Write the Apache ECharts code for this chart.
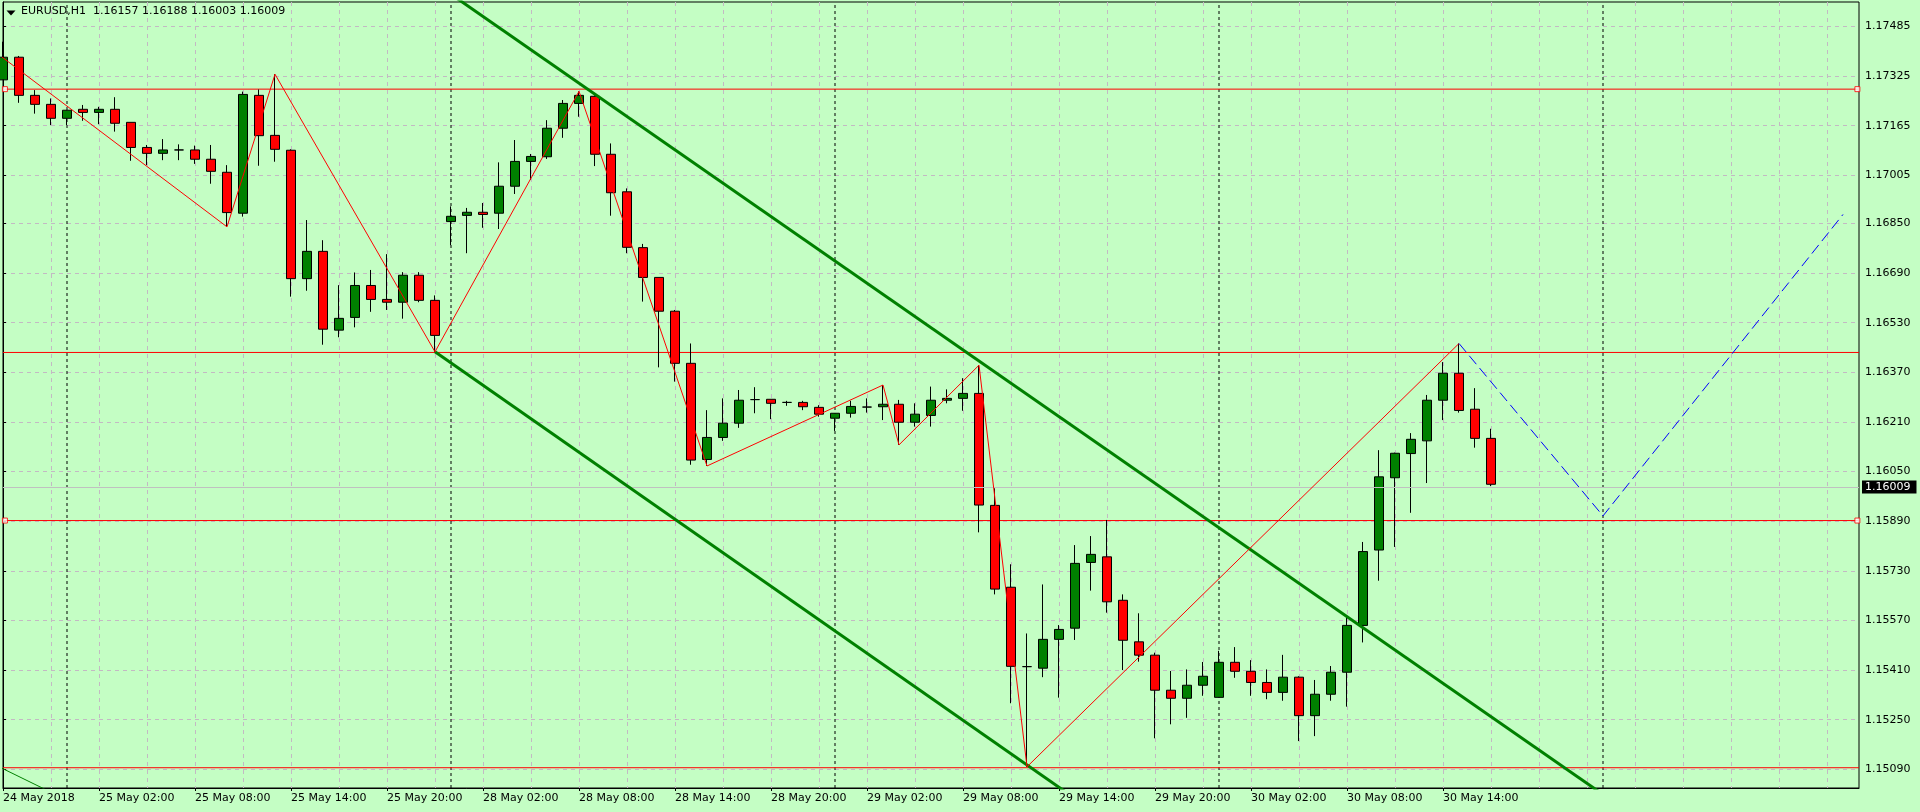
<!DOCTYPE html>
<html>
<head>
<meta charset="utf-8">
<script src="https://cdn.jsdelivr.net/npm/echarts@6/dist/echarts.min.js"></script>
<style>
html,body{margin:0;padding:0;background:#c4fec4;}
#chart{width:1920px;height:812px;}
</style>
</head>
<body>
<div id="chart"></div>
<script>
// ---------------- DATA ----------------
const symbolName = 'EURUSD,H1';
// trading days shown (weekend skipped), first bar = 24 May 20:00, H1 bars
const tradingDays = ['24 May', '25 May', '28 May', '29 May', '30 May', '31 May'];
const firstHour = 20;
const totalSlots = 117; // 94 real bars + future space

const openP = [
1.17313,1.17386,1.17263,1.17234,1.17189,1.17218,1.17208,1.17218,1.17176,1.17095,
1.17076,1.17087,1.17087,1.17057,1.17015,1.16883,1.17263,1.17134,1.17086,1.16672,
1.16760,1.16506,1.16547,1.16650,1.16605,1.16596,1.16683,1.16602,1.16856,1.16876,
1.16886,1.16883,1.16970,1.17050,1.17065,1.17157,1.17237,1.17260,1.17073,1.16952,
1.16772,1.16676,1.16567,1.16399,1.16089,1.16160,1.16206,1.16282,1.16283,1.16273,
1.16273,1.16257,1.16222,1.16238,1.16258,1.16259,1.16267,1.16209,1.16231,1.16280,
1.16286,1.16302,1.15941,1.15677,1.15421,1.15416,1.15509,1.15545,1.15757,1.15775,
1.15635,1.15501,1.15458,1.15345,1.15319,1.15361,1.15322,1.15435,1.15406,1.15370,
1.15338,1.15387,1.15263,1.15332,1.15403,1.15554,1.15797,1.16030,1.16108,1.16149,
1.16280,1.16367,1.16251,1.16157];
const highP = [
1.17436,1.17390,1.17280,1.17253,1.17216,1.17232,1.17226,1.17257,1.17176,1.17103,
1.17122,1.17105,1.17101,1.17103,1.17038,1.17275,1.17282,1.17331,1.17089,1.16861,
1.16796,1.16651,1.16692,1.16700,1.16751,1.16693,1.16693,1.16618,1.16905,1.16900,
1.16916,1.17047,1.17119,1.17074,1.17183,1.17248,1.17276,1.17263,1.17108,1.16963,
1.16784,1.16676,1.16571,1.16463,1.16248,1.16286,1.16313,1.16322,1.16283,1.16278,
1.16278,1.16264,1.16238,1.16278,1.16286,1.16329,1.16281,1.16270,1.16324,1.16315,
1.16351,1.16393,1.15996,1.15751,1.15528,1.15686,1.15555,1.15813,1.15842,1.15894,
1.15654,1.15593,1.15466,1.15407,1.15412,1.15436,1.15472,1.15484,1.15442,1.15412,
1.15459,1.15390,1.15378,1.15423,1.15582,1.15823,1.16119,1.16111,1.16174,1.16297,
1.16403,1.16463,1.16319,1.16188];
const lowP = [
1.17313,1.17239,1.17204,1.17167,1.17167,1.17181,1.17170,1.17146,1.17052,1.17038,
1.17054,1.17054,1.17042,1.16978,1.16839,1.16872,1.17036,1.17049,1.16614,1.16633,
1.16459,1.16483,1.16515,1.16565,1.16571,1.16543,1.16596,1.16436,1.16780,1.16754,
1.16836,1.16832,1.16945,1.16990,1.17058,1.17126,1.17194,1.17035,1.16875,1.16754,
1.16598,1.16386,1.16340,1.16072,1.16068,1.16149,1.16191,1.16238,1.16219,1.16262,
1.16248,1.16227,1.16181,1.16224,1.16240,1.16216,1.16136,1.16195,1.16195,1.16270,
1.16246,1.15854,1.15654,1.15303,1.15098,1.15387,1.15321,1.15507,1.15666,1.15595,
1.15410,1.15437,1.15190,1.15235,1.15256,1.15327,1.15322,1.15385,1.15327,1.15316,
1.15311,1.15181,1.15197,1.15311,1.15292,1.15499,1.15698,1.15807,1.15917,1.16013,
1.16216,1.16240,1.16127,1.16003];
const closeP = [
1.17386,1.17263,1.17234,1.17189,1.17215,1.17208,1.17218,1.17173,1.17095,1.17076,
1.17087,1.17087,1.17057,1.17018,1.16885,1.17266,1.17133,1.17089,1.16672,1.16760,
1.16509,1.16544,1.16650,1.16605,1.16596,1.16683,1.16602,1.16489,1.16873,1.16886,
1.16879,1.16970,1.17050,1.17066,1.17157,1.17237,1.17263,1.17073,1.16949,1.16773,
1.16676,1.16567,1.16399,1.16087,1.16160,1.16206,1.16280,1.16282,1.16270,1.16273,
1.16259,1.16235,1.16238,1.16260,1.16258,1.16267,1.16209,1.16235,1.16280,1.16286,
1.16302,1.15942,1.15671,1.15422,1.15421,1.15509,1.15541,1.15754,1.15783,1.15630,
1.15506,1.15458,1.15345,1.15319,1.15361,1.15390,1.15435,1.15406,1.15370,1.15338,
1.15387,1.15263,1.15332,1.15403,1.15554,1.15792,1.16033,1.16109,1.16154,1.16280,
1.16367,1.16247,1.16157,1.16009];

// x-axis tick labels, one every 6 bars
const xTickLabels = ['24 May 2018','25 May 02:00','25 May 08:00','25 May 14:00','25 May 20:00',
  '28 May 02:00','28 May 08:00','28 May 14:00','28 May 20:00','29 May 02:00','29 May 08:00',
  '29 May 14:00','29 May 20:00','30 May 02:00','30 May 08:00','30 May 14:00'];
// price-axis tick labels
const yTickValues = [1.17485,1.17325,1.17165,1.17005,1.16850,1.16690,1.16530,1.16370,
  1.16210,1.16050,1.15890,1.15730,1.15570,1.15410,1.15250,1.15090];

// ZigZag indicator vertices [bar index, price]
const zigzagIdx   = [-1, 14, 17, 27, 36, 44, 55, 56, 61, 64, 91];
const zigzagPrice = [1.17423,1.16839,1.17331,1.16436,1.17276,1.16068,1.16329,1.16136,1.16393,1.15098,1.16463];
// forecast (blue dashed) vertices
const forecastIdx   = [91, 100, 115];
const forecastPrice = [1.16463, 1.15907, 1.16879];
// channel trend lines (two anchor points each)
const upperChannelIdx = [28, 101],  upperChannelPrice = [1.17589, 1.14973];
const lowerChannelIdx = [27, 68],   lowerChannelPrice = [1.16436, 1.14960];
const smallTrendIdx   = [-1, 3],    smallTrendPrice   = [1.15117, 1.15016];
// horizontal levels
const redLevels = [1.17283, 1.16434, 1.15892, 1.15095];
const markedLevels = [0, 2]; // levels drawn with selection squares
const lastPrice = closeP[closeP.length - 1];
// day separators (bar index of midnight)
const daySeparatorIdx = [4, 28, 52, 76, 100];

// ---------------- BUILD ----------------
const categories = [];
for (let i = 0; i < totalSlots; i++) {
  const h = firstHour + i;
  const d = Math.floor(h / 24), hh = h % 24;
  categories.push(tradingDays[d] + ' ' + String(hh).padStart(2, '0') + ':00');
}
const candles = openP.map((o, i) => [o, closeP[i], lowP[i], highP[i]]);
const zip = (xs, ys) => xs.map((x, i) => [x, ys[i]]);

const yMin = 1.150297, yMax = 1.175640;
const gridColor = '#c3b9c3';
const font = 'DejaVu Sans';
const labelInterval = (idx) => idx % 6 === 0 && idx / 6 < xTickLabels.length;

const series = [];
series.push({
  type: 'candlestick', name: symbolName, xAxisIndex: 0, yAxisIndex: 0,
  data: candles, barWidth: 10, z: 4,
  itemStyle: { color: '#008000', color0: '#ff0000', borderColor: '#000000', borderColor0: '#000000', borderColorDoji: '#000000', borderWidth: 1 },
  emphasis: { disabled: true }
});
// day separators
daySeparatorIdx.forEach(ix => series.push({
  type: 'line', xAxisIndex: 1, yAxisIndex: 0, data: [[ix, yMin], [ix, yMax]],
  symbol: 'none', z: 2, silent: true,
  lineStyle: { color: '#000000', width: 1, type: [3, 3] }
}));
// horizontal red levels
redLevels.forEach(lv => series.push({
  type: 'line', xAxisIndex: 1, yAxisIndex: 0, data: [[0, lv], [totalSlots - 1, lv]],
  symbol: 'none', z: 3, silent: true, lineStyle: { color: '#ff0000', width: 1 }
}));
series.push({
  type: 'scatter', xAxisIndex: 1, yAxisIndex: 0, z: 6, silent: true,
  symbol: 'rect', symbolSize: 5,
  itemStyle: { color: '#ffffff', borderColor: '#ff0000', borderWidth: 1 },
  data: markedLevels.flatMap(k => [[0.12, redLevels[k]], [totalSlots - 1.1, redLevels[k]]])
});
// current price line + label
series.push({
  type: 'line', xAxisIndex: 1, yAxisIndex: 0, data: [], z: 3, silent: true,
  markLine: {
    silent: true, symbol: 'none', animation: false,
    lineStyle: { color: '#c0c0c0', width: 1, type: 'solid' },
    label: { show: true, position: 'end', distance: 3, formatter: lastPrice.toFixed(5),
      color: '#ffffff', backgroundColor: '#000000', padding: [1, 6, 1, 3], fontSize: 11, fontFamily: font },
    data: [{ yAxis: lastPrice }]
  }
});
// channel lines
[[upperChannelIdx, upperChannelPrice], [lowerChannelIdx, lowerChannelPrice]].forEach(([xs, ys]) => series.push({
  type: 'line', xAxisIndex: 1, yAxisIndex: 0, data: zip(xs, ys), symbol: 'none', z: 5, silent: true,
  lineStyle: { color: '#008000', width: 3 }
}));
series.push({
  type: 'line', xAxisIndex: 1, yAxisIndex: 0, data: zip(smallTrendIdx, smallTrendPrice), symbol: 'none', z: 5, silent: true,
  lineStyle: { color: '#008000', width: 1 }
});
// zigzag
series.push({
  type: 'line', xAxisIndex: 1, yAxisIndex: 0, data: zip(zigzagIdx, zigzagPrice), symbol: 'none', z: 6, silent: true,
  lineStyle: { color: '#ff0000', width: 1 }
});
// forecast
series.push({
  type: 'line', xAxisIndex: 1, yAxisIndex: 0, data: zip(forecastIdx, forecastPrice), symbol: 'none', z: 6, silent: true,
  lineStyle: { color: '#0000ff', width: 1, type: [11, 5] }
});

const last = openP.length - 1;
const titleText = symbolName + '  ' + [openP[last], highP[last], lowP[last], closeP[last]].map(v => v.toFixed(5)).join(' ');

const option = {
  backgroundColor: '#c4fec4',
  animation: false,
  textStyle: { fontFamily: font },
  title: { text: titleText, left: 21, top: 6, padding: 0,
    textStyle: { fontSize: 11, fontWeight: 'normal', color: '#000000', fontFamily: font } },
  graphic: [{ type: 'polygon', shape: { points: [[6.5, 10.5], [15.5, 10.5], [11, 15.5]] }, style: { fill: '#000000' } }],
  grid: { left: 3, right: 61, top: 2, bottom: 24, show: true, borderColor: '#000000', borderWidth: 1, backgroundColor: 'transparent', containLabel: false },
  xAxis: [
    { type: 'category', data: categories, boundaryGap: false,
      axisLine: { show: true, lineStyle: { color: '#000000' } },
      axisTick: { show: true, interval: labelInterval, length: 3, lineStyle: { color: '#000000' } },
      axisLabel: { interval: labelInterval, formatter: (v, idx) => xTickLabels[idx / 6], align: 'left',
        color: '#000000', fontSize: 11, margin: 5, fontFamily: font },
      splitLine: { show: true, interval: (idx) => idx > 0 && idx % 3 === 0, lineStyle: { color: gridColor, width: 1, type: [4, 4] } } },
    { type: 'value', min: 0, max: totalSlots - 1, show: false, splitLine: { show: false } }
  ],
  yAxis: [{
    type: 'value', position: 'right', min: yMin, max: yMax,
    axisLine: { show: true, lineStyle: { color: '#000000' } },
    axisTick: { show: true, customValues: yTickValues, length: 3, lineStyle: { color: '#000000' } },
    axisLabel: { customValues: yTickValues, formatter: v => v.toFixed(5), color: '#000000', fontSize: 11, margin: 6, fontFamily: font },
    splitLine: { show: true, lineStyle: { color: gridColor, width: 1, type: [4, 4] } }
  }],
  series: series
};

const chart = echarts.init(document.getElementById('chart'), null, { renderer: 'canvas' });
chart.setOption(option);
</script>
</body>
</html>
